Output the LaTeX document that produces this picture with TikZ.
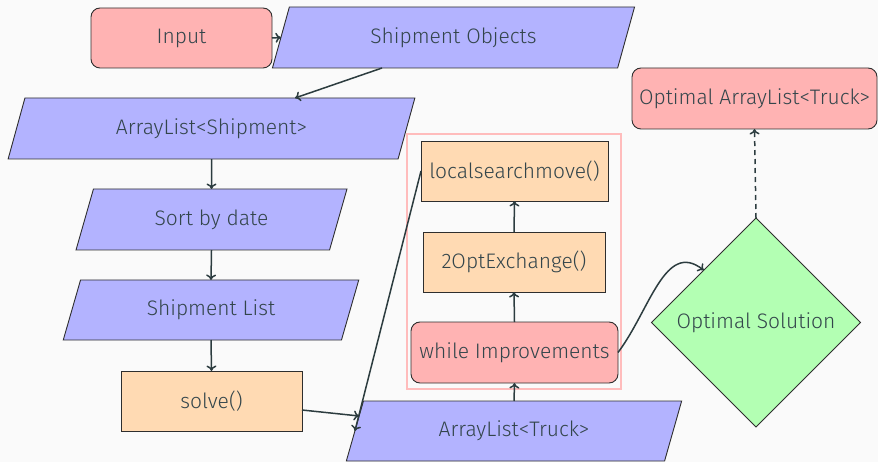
\documentclass[tikz,border=0pt]{standalone}
\usepackage{fontspec}
\setmainfont{Fira Sans}[UprightFont=* Light]
\usetikzlibrary{shapes.geometric,arrows.meta,calc}
\definecolor{paper}{HTML}{FAFAFA}
\definecolor{ink}{HTML}{33454B}
\definecolor{wire}{HTML}{2C3C3F}
\definecolor{outline}{HTML}{2E2E2E}
\definecolor{redfill}{HTML}{FFB3B3}
\definecolor{bluefill}{HTML}{B3B3FF}
\definecolor{orangefill}{HTML}{FFDAB3}
\definecolor{greenfill}{HTML}{B3FFB3}
\definecolor{framepink}{HTML}{FFBCBC}

\tikzset{
  base/.style={font=\fontsize{21}{25}\selectfont, text=ink, draw=outline,
    line width=0.9pt, outer sep=0pt, inner sep=2pt},
  term/.style={base, rectangle, rounded corners=9pt, fill=redfill},
  proc/.style={base, rectangle, fill=orangefill},
  io/.style={base, trapezium, trapezium left angle=70, trapezium right angle=110,
    trapezium stretches=true, fill=bluefill},
  decision/.style={base, diamond, fill=greenfill},
  flow/.style={draw=wire, line width=1.5pt, -{To[length=5.5pt,width=10pt]}},
}

\begin{document}
\begin{tikzpicture}[x=1pt,y=-1pt]
  \fill[paper] (0,0) rectangle (878,462);
  \useasboundingbox (0,0) rectangle (878,462);

  % loop group frame
  \node (frame) at (514,261.5) [draw=framepink, line width=1.8pt,
    minimum width=214pt, minimum height=255pt, inner sep=0pt] {};

  % left column
  \node[term, minimum width=181pt, minimum height=60pt] (in) at (181.5,38) {Input};
  \node[io, minimum width=363pt, minimum height=61pt] (so) at (453.5,37.5) {Shipment Objects};
  \node[io, minimum width=407pt, minimum height=61pt] (als) at (211.5,128.5) {ArrayList<Shipment>};
  \node[io, minimum width=271pt, minimum height=61pt] (sort) at (211.5,219.5) {Sort by date};
  \node[io, minimum width=296pt, minimum height=60pt] (sl) at (211,310) {Shipment List};
  \node[proc, minimum width=181pt, minimum height=60pt] (solve) at (211.5,401) {solve()};

  % middle column
  \node[io, minimum width=336pt, minimum height=60pt] (alt) at (514,431) {ArrayList<Truck>};
  \node[proc, minimum width=187pt, minimum height=60pt] (lsm) at (514.5,171) {localsearchmove()};
  \node[proc, minimum width=182pt, minimum height=60pt] (opt) at (514,262) {2OptExchange()};
  \node[term, minimum width=207pt, minimum height=61pt] (wi) at (514.5,352.5) {while Improvements};

  % right column
  \node[decision, minimum width=209pt, minimum height=209pt] (os) at (756,322.5) {Optimal Solution};
  \node[term, minimum width=245pt, minimum height=61pt] (oal) at (754.5,98.5) {Optimal ArrayList<Truck>};

  % connectors
  \draw[flow] (in.east) -- (so.west);
  \draw[flow] ([xshift=-71.5pt]so.south) -- ([xshift=83.5pt]als.north);
  \draw[flow] (als.south) -- (sort.north);
  \draw[flow] (sort.south) -- (sl.north);
  \draw[flow] (sl.south) -- (solve.north);
  \draw[flow] ([yshift=-9pt]solve.east) --
    ($(alt.top left corner)!0.25!(alt.bottom left corner)$);
  \draw[flow] (lsm.west) -- (alt.west);
  \draw[flow] (alt.north) -- (wi.south);
  \draw[flow] (wi.north) -- (opt.south);
  \draw[flow] (opt.north) -- (lsm.south);
  \draw[flow] (wi.east) .. controls (650,310) and (665,240) .. (os.north west);
  \draw[flow, dashed, dash pattern=on 5pt off 4pt] (os.north) -- (oal.south);
\end{tikzpicture}
\end{document}
